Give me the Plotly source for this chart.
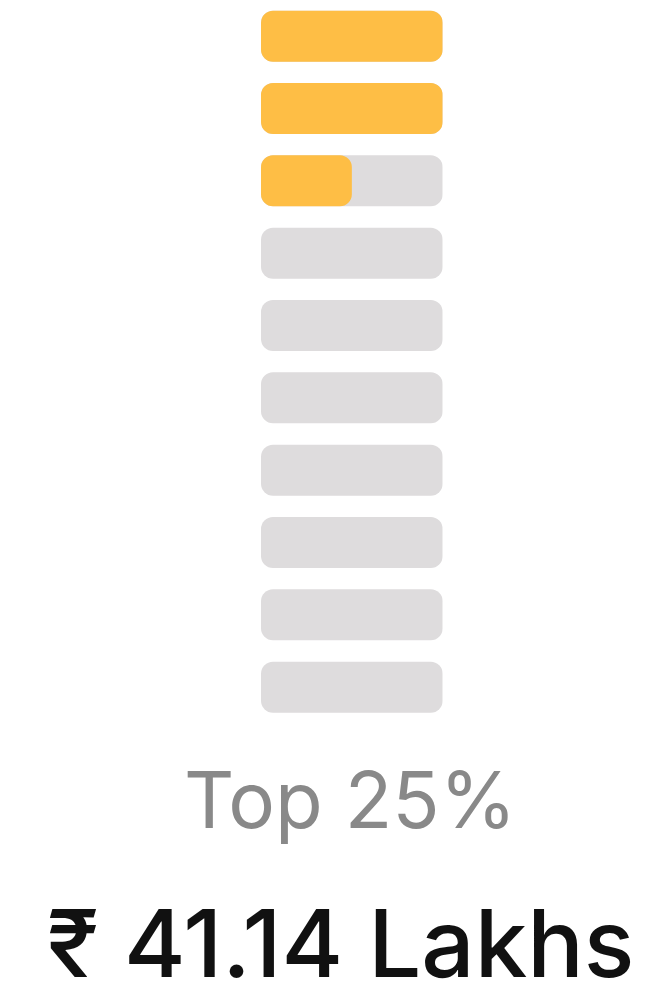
import plotly.graph_objects as go

# Data
levels = ["L1", "L2", "L3", "L4", "L5", "L6", "L7", "L8", "L9", "L10"]
track_values = [1, 1, 1, 1, 1, 1, 1, 1, 1, 1]
fill_values = [1, 1, 0.5, 0, 0, 0, 0, 0, 0, 0]
rank_label = "Top 25%"
amount_label = "₹ 41.14 Lakhs"

# Page body has an 8px default margin, so the figure is 16px smaller.
W, H = 640, 976
OFF = 8
RADIUS = 12
BAR_W = 0.705
BASE = 1e-6


def add_rounded(values, color):
    fig.add_trace(go.Bar(
        y=levels, x=values, base=[BASE] * len(values), orientation="h",
        marker=dict(color=color, cornerradius=RADIUS, line=dict(width=0)),
        width=BAR_W, hoverinfo="skip", showlegend=False,
    ))


fig = go.Figure()
add_rounded(track_values, "#DEDCDD")
add_rounded(fill_values, "#FEBE45")

x0, x1 = (261 - OFF) / W, (442.7 - OFF) / W
pitch = 72.33
first_center = 36.2 - OFF
top_val = -0.5 + (0 - (first_center - pitch / 2)) / pitch
bottom_px = first_center + 9.5 * pitch
fig.update_layout(
    width=W, height=H,
    margin=dict(l=0, r=0, t=0, b=0),
    paper_bgcolor="white", plot_bgcolor="white",
    barmode="overlay",
    xaxis=dict(domain=[x0, x1], range=[0, 1], visible=False, fixedrange=True),
    yaxis=dict(domain=[(H - bottom_px) / H, 1], autorange=False,
               range=[9.5, top_val], visible=False, fixedrange=True,
               categoryorder="array", categoryarray=levels),
    annotations=[
        dict(text=rank_label, x=342 / W, y=1 - 791 / H, xref="paper", yref="paper",
             xanchor="center", yanchor="middle", showarrow=False,
             font=dict(family="Inter", size=78, color="#898989", weight=400)),
        dict(text=amount_label, x=332 / W, y=1 - 935 / H, xref="paper", yref="paper",
             xanchor="center", yanchor="middle", showarrow=False,
             font=dict(family="Inter", size=94, color="#111111", weight=500)),
    ],
)

fig.write_html("out.html")
